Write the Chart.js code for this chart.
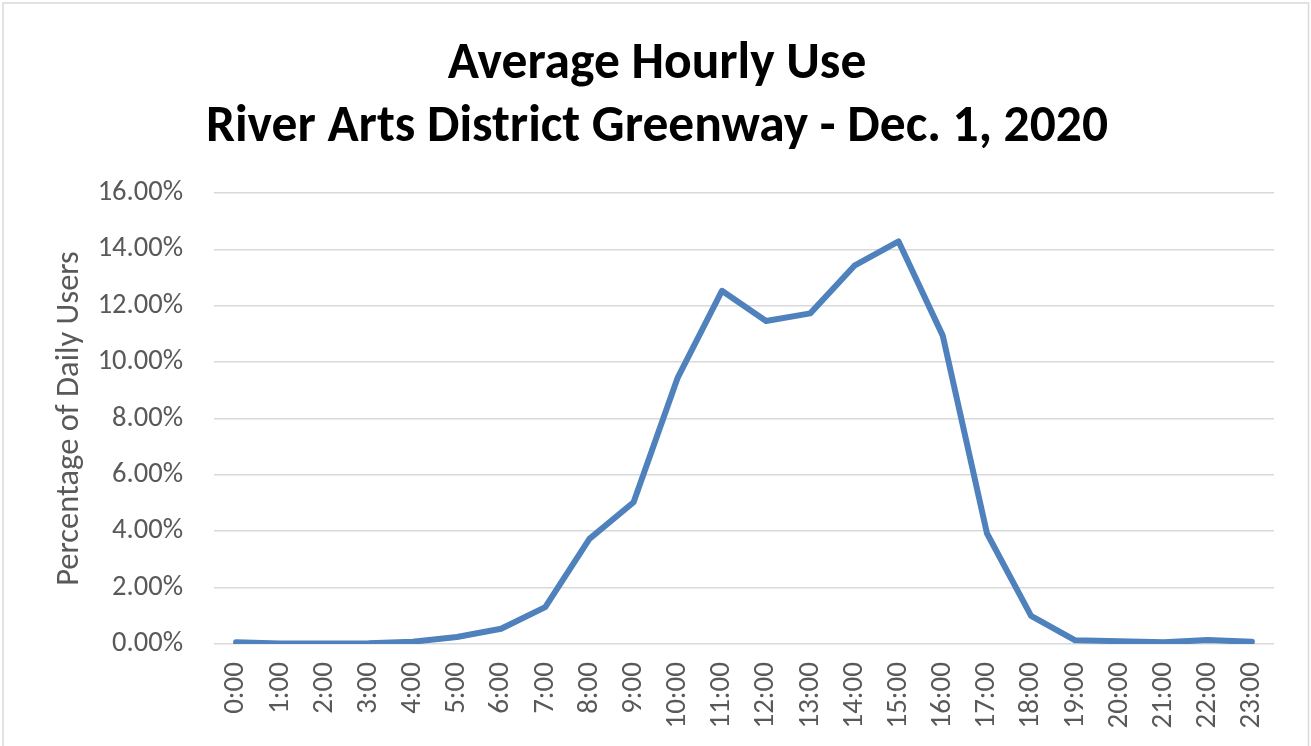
<!DOCTYPE html>
<html>
<head>
<meta charset="utf-8">
<script src="https://cdn.jsdelivr.net/npm/chart.js@4/dist/chart.umd.min.js"></script>
<style>
  html, body { margin: 0; padding: 0; background: #fff; }
  #wrap { position: relative; width: 1311px; height: 746px; }
  canvas { display: block; }
</style>
</head>
<body>
<div id="wrap"><canvas id="c" width="1311" height="746"></canvas></div>
<script>
const hours = ["0:00","1:00","2:00","3:00","4:00","5:00","6:00","7:00","8:00","9:00","10:00","11:00",
               "12:00","13:00","14:00","15:00","16:00","17:00","18:00","19:00","20:00","21:00","22:00","23:00"];
const pctDailyUsers = [0.06, 0.02, 0.02, 0.03, 0.08, 0.25, 0.54, 1.31, 3.73, 5.03, 9.45, 12.53,
                       11.46, 11.73, 13.42, 14.28, 10.94, 3.93, 1.00, 0.13, 0.10, 0.06, 0.14, 0.08];
const yTicksMin = 0, yTicksMax = 16, yTickStep = 2;
const titleLines = ["Average Hourly Use", "River Arts District Greenway - Dec. 1, 2020"];
const yAxisTitle = "Percentage of Daily Users";

const FONT = "Carlito, 'Open Sans', 'Liberation Sans', sans-serif";
const GRAY = "#595959";

const borderPlugin = {
  id: 'outerBorder',
  beforeDraw(chart) {
    const ctx = chart.ctx;
    ctx.save();
    ctx.fillStyle = '#ffffff';
    ctx.fillRect(0, 0, chart.width, chart.height);
    ctx.strokeStyle = '#d9d9d9';
    ctx.lineWidth = 1.5;
    ctx.strokeRect(3, 3, chart.width - 5.5, chart.height - 2);
    ctx.restore();
  }
};

new Chart(document.getElementById('c'), {
  type: 'line',
  data: {
    labels: hours,
    datasets: [{
      data: pctDailyUsers,
      borderColor: '#4f81bd',
      backgroundColor: '#4f81bd',
      borderWidth: 6,
      tension: 0,
      pointRadius: 0,
      borderCapStyle: 'round',
      borderJoinStyle: 'round',
      fill: false
    }]
  },
  options: {
    responsive: false,
    animation: false,
    layout: { padding: { left: 40, right: 37, top: 0, bottom: 0 } },
    plugins: {
      legend: { display: false },
      tooltip: { enabled: false },
      title: {
        display: true,
        text: titleLines,
        color: '#000000',
        font: { family: FONT, size: 51.5, weight: 'bold', lineHeight: 1.223 },
        padding: { top: 34, bottom: 33 }
      }
    },
    scales: {
      x: {
        type: 'category',
        offset: true,
        grid: { display: false, drawTicks: false },
        border: { display: false },
        ticks: {
          color: GRAY,
          font: { family: FONT, size: 29 },
          minRotation: 90,
          maxRotation: 90,
          autoSkip: false,
          padding: 18
        },
        afterFit(scale) { scale.height = 102; }
      },
      y: {
        min: yTicksMin,
        max: yTicksMax,
        grid: { color: '#d9d9d9', lineWidth: 1.5, drawTicks: false },
        border: { display: false },
        ticks: {
          stepSize: yTickStep,
          color: GRAY,
          font: { family: FONT, size: 28.5 },
          padding: 31,
          callback: v => Number(v).toFixed(2) + '%'
        },
        title: {
          display: true,
          text: yAxisTitle,
          color: GRAY,
          font: { family: FONT, size: 32.5, lineHeight: 1.2 },
          padding: { top: 10, bottom: 0 }
        },
        afterFit(scale) { scale.width = 174; }
      }
    }
  },
  plugins: [borderPlugin]
});
</script>
</body>
</html>
